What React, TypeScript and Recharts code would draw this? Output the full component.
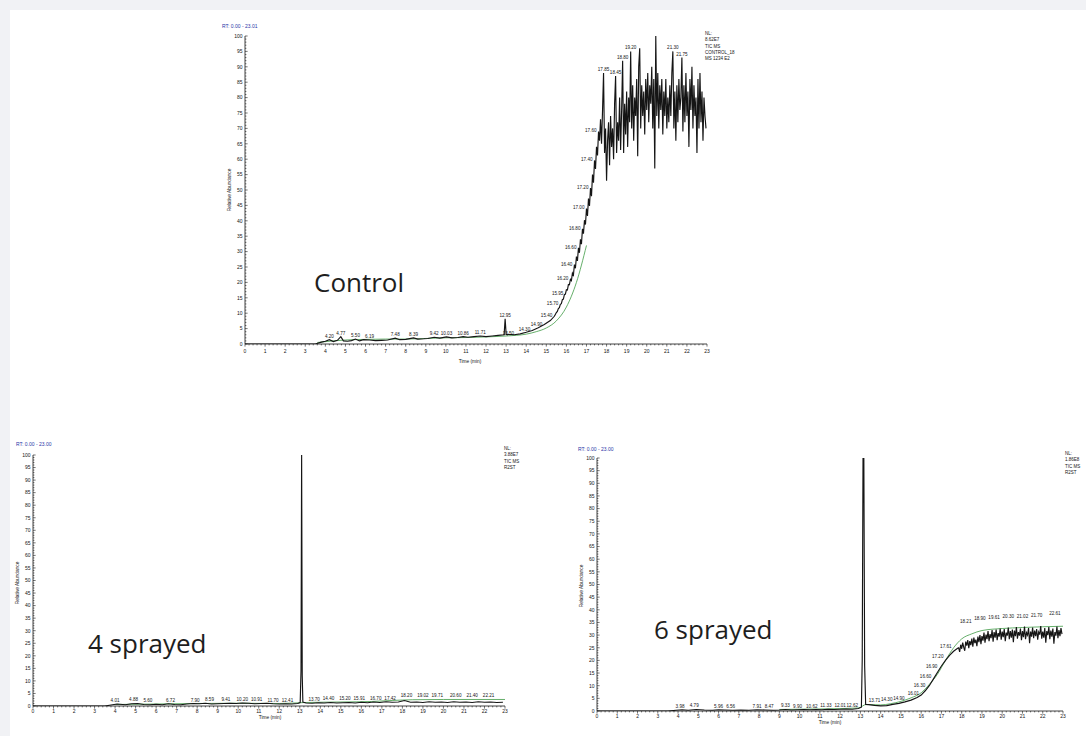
import { ComposedChart, Line, Scatter, XAxis, YAxis } from 'recharts';

type Pt = [number, number];

// Control chromatogram (time min, relative abundance %)
const controlTrace: Pt[] = [
  [0, 0], [3.5, 0], [3.8, 0.6], [4.0, 0.9], [4.2, 1.4], [4.4, 0.8], [4.6, 1.2], [4.77, 2.4], [4.9, 1.0],
  [5.1, 0.9], [5.3, 1.1], [5.5, 1.6], [5.7, 1.0], [5.9, 1.4], [6.2, 1.3], [6.5, 1.1], [6.8, 1.2], [7.1, 1.3],
  [7.48, 1.9], [7.7, 1.4], [8.0, 1.5], [8.39, 2.0], [8.6, 1.6], [8.9, 1.7], [9.1, 1.8], [9.42, 2.2], [9.7, 1.9],
  [10.03, 2.3], [10.3, 2.0], [10.6, 2.1], [10.86, 2.4], [11.1, 2.2], [11.4, 2.4], [11.71, 2.6], [12.0, 2.4],
  [12.3, 2.6], [12.6, 2.8], [12.9, 3.0], [12.95, 8.2], [13.0, 3.2], [13.05, 3.0], [13.1, 3.1], [13.4, 3.0],
  [13.7, 3.3], [14.0, 3.8], [14.3, 4.4], [14.6, 5.3], [14.9, 6.3], [15.2, 7.6], [15.4, 9.0], [15.45, 9.6],
  [15.5, 10.2], [15.55, 10.6], [15.6, 11.5], [15.65, 11.8], [15.7, 12.9], [15.75, 13.1], [15.8, 14.4],
  [15.85, 14.6], [15.9, 16.0], [15.95, 16.2], [16.0, 17.6], [16.05, 17.5], [16.1, 19.3], [16.15, 19.2],
  [16.2, 21.0], [16.25, 20.6], [16.3, 23.0], [16.35, 22.4], [16.4, 25.8], [16.45, 24.6], [16.5, 28.4],
  [16.55, 27.0], [16.6, 31.2], [16.65, 29.6], [16.7, 34.0], [16.75, 32.4], [16.8, 37.4], [16.85, 35.8],
  [16.9, 40.2], [16.95, 38.8], [17.0, 44.0], [17.05, 41.6], [17.1, 47.2], [17.15, 44.8], [17.2, 50.6],
  [17.25, 48.0], [17.3, 55.0], [17.35, 52.4], [17.4, 59.6], [17.45, 56.8], [17.5, 64.0], [17.55, 61.2],
  [17.6, 69.0], [17.65, 66.0], [17.7, 73.0], [17.75, 65.0], [17.8, 76.0], [17.85, 88.0], [17.9, 62.0],
  [17.95, 70.0], [18.0, 53.0], [18.05, 66.0], [18.1, 72.0], [18.15, 58.0], [18.2, 74.0], [18.25, 64.0],
  [18.3, 70.0], [18.35, 60.0], [18.4, 78.0], [18.45, 87.0], [18.5, 62.0], [18.55, 72.0], [18.6, 66.0],
  [18.65, 80.0], [18.7, 63.0], [18.75, 76.0], [18.8, 92.0], [18.85, 62.0], [18.9, 78.0], [18.95, 68.0],
  [19.0, 82.0], [19.05, 64.0], [19.1, 80.0], [19.15, 72.0], [19.2, 95.0], [19.25, 70.0], [19.3, 84.0],
  [19.35, 66.0], [19.4, 80.0], [19.45, 74.0], [19.5, 86.0], [19.55, 61.0], [19.6, 90.0], [19.65, 96.0],
  [19.7, 70.0], [19.75, 84.0], [19.8, 74.0], [19.85, 82.0], [19.9, 68.0], [19.95, 86.0], [20.0, 76.0],
  [20.05, 88.0], [20.1, 72.0], [20.15, 84.0], [20.2, 78.0], [20.25, 90.0], [20.3, 70.0], [20.35, 86.0],
  [20.4, 57.0], [20.45, 100.0], [20.5, 74.0], [20.55, 88.0], [20.6, 70.0], [20.65, 84.0], [20.7, 76.0],
  [20.75, 86.0], [20.8, 68.0], [20.85, 82.0], [20.9, 74.0], [20.95, 86.0], [21.0, 70.0], [21.05, 80.0],
  [21.1, 72.0], [21.15, 84.0], [21.2, 74.0], [21.25, 88.0], [21.3, 95.0], [21.35, 70.0], [21.4, 82.0],
  [21.45, 66.0], [21.5, 84.0], [21.55, 72.0], [21.6, 86.0], [21.65, 76.0], [21.7, 80.0], [21.75, 93.0],
  [21.8, 69.0], [21.85, 84.0], [21.9, 72.0], [21.95, 88.0], [22.0, 74.0], [22.05, 82.0], [22.1, 64.0],
  [22.15, 86.0], [22.2, 76.0], [22.25, 90.0], [22.3, 70.0], [22.35, 84.0], [22.4, 74.0], [22.45, 80.0],
  [22.5, 62.0], [22.55, 86.0], [22.6, 70.0], [22.65, 88.0], [22.7, 72.0], [22.75, 82.0], [22.8, 66.0],
  [22.85, 80.0], [22.9, 74.0], [22.95, 70.0],
];
const controlSmooth: Pt[] = [
  [3.6, 0.5], [5, 1.3], [6, 1.5], [7, 1.6], [8, 1.6], [9, 1.8], [10, 2.0], [11, 2.1], [12, 2.3], [13, 2.6],
  [14, 3.2], [14.5, 4.0], [15, 5.2], [15.5, 7.5], [16, 12], [16.5, 20], [17, 32],
];
const controlPeaks: [number, number, string][] = [
  [4.2, 1.4, '4.20'], [4.77, 2.4, '4.77'], [5.5, 1.6, '5.50'], [6.2, 1.4, '6.19'], [7.48, 1.9, '7.48'],
  [8.39, 2.0, '8.39'], [9.42, 2.2, '9.42'], [10.03, 2.3, '10.03'], [10.86, 2.4, '10.86'], [11.71, 2.6, '11.71'],
  [12.95, 8.2, '12.95'], [17.85, 88, '17.85'], [18.45, 87, '18.45'], [18.8, 92, '18.80'], [19.2, 95, '19.20'],
  [20.45, 100, '20.45'], [21.3, 95, '21.30'], [21.75, 93, '21.75'],
];
const controlSidePeaks: [number, number, string][] = [
  [13.5, 3.1, '13.50'], [14.3, 4.4, '14.30'], [14.9, 6.3, '14.90'], [15.4, 9.0, '15.40'], [15.7, 12.9, '15.70'],
  [15.95, 16.2, '15.95'], [16.2, 21.0, '16.20'], [16.4, 25.8, '16.40'], [16.6, 31.2, '16.60'], [16.8, 37.4, '16.80'],
  [17.0, 44.0, '17.00'], [17.2, 50.6, '17.20'], [17.4, 59.6, '17.40'], [17.6, 69.0, '17.60'],
];

// 4 sprayed
const spray4Trace: Pt[] = [
  [0, 0], [3.5, 0], [3.8, 0.4], [4.1, 0.8], [4.5, 0.5], [4.8, 0.9], [5.1, 1.0], [5.4, 0.6], [5.7, 0.5],
  [6.0, 0.7], [6.3, 0.5], [6.6, 0.9], [6.9, 0.6], [7.2, 0.5], [7.5, 0.8], [7.8, 1.0], [8.1, 0.9], [8.4, 1.1],
  [8.7, 0.8], [9.0, 0.9], [9.3, 1.0], [9.6, 1.1], [9.9, 1.0], [10.2, 1.2], [10.5, 1.1], [10.8, 0.9],
  [11.1, 1.0], [11.4, 1.1], [11.7, 0.9], [12.0, 0.8], [12.3, 0.9], [12.6, 0.8], [12.9, 1.0], [13.02, 1.4],
  [13.06, 14], [13.09, 100], [13.12, 12], [13.15, 1.6], [13.3, 1.2], [13.6, 1.1], [13.9, 1.3], [14.2, 1.2],
  [14.5, 1.4], [14.8, 1.2], [15.1, 1.3], [15.4, 1.4], [15.7, 1.2], [16.0, 1.5], [16.3, 1.3], [16.6, 1.6],
  [16.9, 1.4], [17.2, 1.7], [17.5, 1.5], [17.8, 1.6], [18.1, 2.2], [18.4, 1.5], [18.7, 1.6], [19.0, 1.4],
  [19.3, 1.7], [19.6, 1.5], [19.9, 1.6], [20.2, 1.4], [20.5, 1.7], [20.8, 1.5], [21.1, 1.6], [21.4, 1.4],
  [21.7, 1.7], [22.0, 1.5], [22.3, 1.6], [22.6, 1.4], [22.9, 1.5],
];
const spray4Smooth: Pt[] = [
  [4, 0.6], [6, 0.8], [8, 1.0], [10, 1.1], [12, 1.0], [13.3, 1.4], [15, 1.6], [16.5, 1.8], [17.5, 2.2],
  [18.5, 2.5], [20, 2.6], [23, 2.6],
];
const spray4Peaks: [number, number, string][] = [
  [4.0, 0.8, '4.01'], [4.9, 1.0, '4.88'], [5.6, 0.9, '5.60'], [6.7, 0.9, '6.72'], [7.9, 0.9, '7.90'],
  [8.6, 1.1, '8.59'], [9.4, 1.1, '9.41'], [10.2, 1.2, '10.20'], [10.9, 1.0, '10.91'], [11.7, 0.9, '11.70'],
  [12.4, 0.9, '12.41'], [13.09, 100, '13.09'], [13.7, 1.2, '13.70'], [14.4, 1.4, '14.40'], [15.2, 1.4, '15.20'],
  [15.9, 1.5, '15.91'], [16.7, 1.6, '16.70'], [17.4, 1.7, '17.42'], [18.2, 2.6, '18.20'], [19.0, 2.7, '19.02'],
  [19.7, 2.7, '19.71'], [20.6, 2.8, '20.60'], [21.4, 2.8, '21.40'], [22.2, 2.8, '22.21'],
];

// 6 sprayed
const spray6Trace: Pt[] = [
  [0, 0], [3.5, 0], [3.9, 0.3], [4.2, 0.5], [4.5, 0.3], [4.9, 0.6], [5.3, 0.4], [5.7, 0.3], [6.0, 0.5],
  [6.3, 0.4], [6.7, 0.3], [7.1, 0.4], [7.5, 0.3], [7.9, 0.5], [8.3, 0.4], [8.7, 0.3], [9.0, 0.4], [9.3, 0.6],
  [9.6, 0.4], [9.9, 0.5], [10.2, 0.6], [10.5, 0.5], [10.8, 0.6], [11.1, 0.5], [11.4, 0.7], [11.7, 0.6],
  [12.0, 0.7], [12.3, 0.8], [12.6, 0.7], [12.9, 1.0], [13.05, 1.5], [13.09, 20], [13.13, 100], [13.17, 100],
  [13.21, 18], [13.26, 2.6], [13.4, 2.5], [13.7, 2.2], [14.0, 2.0], [14.3, 2.1], [14.6, 2.6], [14.9, 3.0],
  [15.2, 3.6], [15.5, 4.3], [15.8, 5.3], [16.0, 6.3], [16.2, 8.0], [16.4, 10.0], [16.6, 12.6], [16.8, 15.2],
  [17.0, 17.8], [17.2, 20.0], [17.4, 22.0], [17.6, 23.6], [17.8, 24.8], [17.85, 25.0], [17.9, 23.4],
  [17.95, 26.2], [18.0, 24.6], [18.05, 27.0], [18.1, 25.2], [18.15, 23.8], [18.2, 27.4], [18.25, 25.8],
  [18.3, 28.0], [18.35, 24.8], [18.4, 27.6], [18.45, 26.0], [18.5, 28.6], [18.55, 25.4], [18.6, 29.0],
  [18.65, 26.8], [18.7, 28.2], [18.75, 25.6], [18.8, 29.4], [18.85, 27.2], [18.9, 30.0], [18.95, 26.4],
  [19.0, 29.6], [19.05, 27.8], [19.1, 31.0], [19.15, 27.0], [19.2, 30.2], [19.25, 28.4], [19.3, 31.6],
  [19.35, 27.6], [19.4, 30.4], [19.45, 28.8], [19.5, 32.0], [19.55, 27.4], [19.6, 31.2], [19.65, 29.0],
  [19.7, 32.2], [19.75, 28.0], [19.8, 30.8], [19.85, 29.4], [19.9, 32.6], [19.95, 28.2], [20.0, 31.4],
  [20.05, 29.2], [20.1, 32.4], [20.15, 27.6], [20.2, 31.0], [20.25, 29.8], [20.3, 33.0], [20.35, 28.4],
  [20.4, 31.6], [20.45, 29.0], [20.5, 32.2], [20.55, 27.2], [20.6, 31.8], [20.65, 29.6], [20.7, 33.2],
  [20.75, 28.6], [20.8, 31.2], [20.85, 29.8], [20.9, 32.6], [20.95, 28.0], [21.0, 31.6], [21.05, 29.2],
  [21.1, 33.4], [21.15, 28.4], [21.2, 31.0], [21.25, 30.0], [21.3, 32.8], [21.35, 26.8], [21.4, 31.4],
  [21.45, 29.4], [21.5, 33.0], [21.55, 28.8], [21.6, 31.8], [21.65, 29.6], [21.7, 32.4], [21.75, 28.2],
  [21.8, 31.2], [21.85, 30.2], [21.9, 33.6], [21.95, 28.6], [22.0, 31.4], [22.05, 29.0], [22.1, 32.8],
  [22.15, 27.0], [22.2, 31.6], [22.25, 30.0], [22.3, 33.2], [22.35, 28.4], [22.4, 31.8], [22.45, 29.4],
  [22.5, 32.6], [22.55, 26.6], [22.6, 31.2], [22.65, 29.8], [22.7, 33.4], [22.75, 28.8], [22.8, 32.0],
  [22.85, 29.6], [22.9, 32.8], [22.95, 30.4],
];
const spray6Smooth: Pt[] = [
  [9, 0.6], [11, 0.8], [12.9, 1.2], [13.3, 2.6], [14, 2.4], [14.5, 2.9], [15, 3.8], [15.5, 5.2], [16, 7.2],
  [16.4, 10.5], [16.8, 14.5], [17.2, 20], [17.6, 25], [18, 28.5], [18.5, 30.5], [19, 31.8], [20, 32.6], [21, 33],
  [22, 33.3], [23, 33.5],
];
const spray6Peaks: [number, number, string][] = [
  [4.1, 0.5, '3.98'], [4.8, 0.6, '4.79'], [6.0, 0.5, '5.96'], [6.6, 0.4, '6.56'], [7.9, 0.5, '7.91'],
  [8.5, 0.4, '8.47'], [9.3, 0.6, '9.33'], [9.9, 0.5, '9.90'], [10.6, 0.5, '10.62'], [11.3, 0.6, '11.33'],
  [12.0, 0.7, '12.01'], [12.6, 0.9, '12.62'], [13.15, 100, '13.15'], [13.7, 2.8, '13.71'], [14.3, 3.0, '14.30'],
  [14.9, 3.6, '14.90'], [18.2, 34.0, '18.21'], [18.9, 35.0, '18.90'], [19.6, 35.6, '19.61'], [20.3, 36.0, '20.30'],
  [21.0, 36.0, '21.02'], [21.7, 36.2, '21.70'], [22.6, 37.0, '22.61'],
];
const spray6SidePeaks: [number, number, string][] = [
  [16.0, 6.6, '16.01'], [16.3, 10.0, '16.30'], [16.6, 13.6, '16.60'], [16.9, 17.4, '16.90'], [17.2, 21.2, '17.20'],
  [17.6, 25.2, '17.61'],
];

const xMajor = [0, 1, 2, 3, 4, 5, 6, 7, 8, 9, 10, 11, 12, 13, 14, 15, 16, 17, 18, 19, 20, 21, 22, 23];
const yMajor = [0, 5, 10, 15, 20, 25, 30, 35, 40, 45, 50, 55, 60, 65, 70, 75, 80, 85, 90, 95, 100];
const xTicks = Array.from({ length: 23 * 5 + 1 }, (_, i) => Math.round(i * 2) / 10);
const yTicks = Array.from({ length: 101 }, (_, i) => i);

const toRows = (pts: Pt[]) => pts.map(([t, v]) => ({ t, v }));
const toPeaks = (pts: [number, number, string][]) => pts.map(([t, v, l]) => ({ t, v, l }));

const INK = '#151515';
const GREEN = '#3f9a45';
const SMALL = 'Liberation Sans, Arial, sans-serif';
const AXW = 20; // y-axis width / x-axis height reserved by recharts

function XTick(props: any) {
  const { x, y, payload, labelGap } = props;
  const v = payload.value;
  const major = xMajor.includes(v);
  return (
    <g>
      <line x1={x} x2={x} y1={y} y2={y + (major ? 2.6 : 1.4)} stroke={INK} strokeWidth={0.6} />
      {major && (
        <text x={x} y={y + labelGap} textAnchor="middle" fontSize={5} fontFamily={SMALL} fill={INK}>
          {v}
        </text>
      )}
    </g>
  );
}

function YTick(props: any) {
  const { x, y, payload } = props;
  const v = payload.value;
  const major = yMajor.includes(v);
  return (
    <g>
      <line x1={x} x2={x + (major ? 2.6 : 1.4)} y1={y} y2={y} stroke={INK} strokeWidth={0.6} />
      {major && (
        <text x={x - 2.5} y={y + 1.8} textAnchor="end" fontSize={5} fontFamily={SMALL} fill={INK}>
          {v}
        </text>
      )}
    </g>
  );
}

const topLabel = (p: any) => (
  <text x={p.cx} y={p.cy - 2} textAnchor="middle" fontSize={4.6} fontFamily={SMALL} fill={INK}>
    {p.payload.l}
  </text>
);
const sideLabel = (p: any) => (
  <text x={p.cx - 2} y={p.cy + 1} textAnchor="end" fontSize={4.6} fontFamily={SMALL} fill={INK}>
    {p.payload.l}
  </text>
);

type PanelProps = {
  plot: { left: number; top: number; right: number; bottom: number };
  trace: Pt[];
  smooth: Pt[];
  peaks: [number, number, string][];
  sidePeaks?: [number, number, string][];
  labelGap: number;
};

function Panel({ plot, trace, smooth, peaks, sidePeaks, labelGap }: PanelProps) {
  const margin = {
    top: plot.top,
    left: plot.left - AXW,
    right: 1086 - plot.right,
    bottom: 736 - plot.bottom - AXW,
  };
  return (
    <div style={{ position: 'absolute', left: 0, top: 0 }}>
      <ComposedChart width={1086} height={736} margin={margin}>
        <XAxis
          type="number"
          dataKey="t"
          domain={[0, 23]}
          ticks={xTicks}
          interval={0}
          height={AXW}
          tickSize={0}
          tickMargin={0}
          tickLine={false}
          axisLine={{ stroke: INK, strokeWidth: 0.8 }}
          tick={(p: any) => <XTick {...p} labelGap={labelGap} />}
          allowDataOverflow
        />
        <YAxis
          type="number"
          dataKey="v"
          domain={[0, 100]}
          ticks={yTicks}
          interval={0}
          width={AXW}
          tickSize={0}
          tickMargin={0}
          tickLine={false}
          axisLine={{ stroke: INK, strokeWidth: 0.8 }}
          tick={(p: any) => <YTick {...p} />}
          allowDataOverflow
        />
        <Line data={toRows(smooth)} dataKey="v" type="monotone" stroke={GREEN} strokeWidth={0.8} dot={false} isAnimationActive={false} />
        <Line data={toRows(trace)} dataKey="v" type="linear" stroke={INK} strokeWidth={1.15} dot={false} isAnimationActive={false} />
        <Scatter data={toPeaks(peaks)} dataKey="v" shape={topLabel} isAnimationActive={false} />
        {sidePeaks && <Scatter data={toPeaks(sidePeaks)} dataKey="v" shape={sideLabel} isAnimationActive={false} />}
      </ComposedChart>
    </div>
  );
}

function Annotations() {
  const hdr = { fontSize: 5, fontFamily: SMALL, fill: '#2b35a8' } as const;
  const info = { fontSize: 4.5, fontFamily: SMALL, fill: INK } as const;
  const axisT = { fontSize: 4.8, fontFamily: SMALL, fill: INK } as const;
  const big = { fontSize: 26, fontFamily: 'Open Sans, sans-serif', fill: '#1e1e1e' } as const;
  const block = (x: number, y: number, lines: string[]) =>
    lines.map((s, i) => (
      <text key={s + i} x={x} y={y + i * 6.3} {...info}>
        {s}
      </text>
    ));
  return (
    <svg width={1086} height={736} style={{ position: 'absolute', left: 0, top: 0 }}>
      <text x={222} y={28} {...hdr}>RT: 0.00 - 23.01</text>
      <text x={16} y={446} {...hdr}>RT: 0.00 - 23.00</text>
      <text x={578} y={451} {...hdr}>RT: 0.00 - 23.00</text>
      {block(705, 35, ['NL:', '8.62E7', 'TIC  MS', 'CONTROL_18', 'MS 1234 E2'])}
      {block(504, 450, ['NL:', '3.88E7', 'TIC  MS', 'R2ST'])}
      {block(1065, 455, ['NL:', '1.86E8', 'TIC  MS', 'R2ST'])}
      <text transform="translate(231,190) rotate(-90)" textAnchor="middle" {...axisT}>Relative Abundance</text>
      <text transform="translate(19,583) rotate(-90)" textAnchor="middle" {...axisT}>Relative Abundance</text>
      <text transform="translate(583,586) rotate(-90)" textAnchor="middle" {...axisT}>Relative Abundance</text>
      <text x={470} y={363} textAnchor="middle" {...axisT}>Time (min)</text>
      <text x={270} y={719} textAnchor="middle" {...axisT}>Time (min)</text>
      <text x={830} y={724} textAnchor="middle" {...axisT}>Time (min)</text>
      <text x={314} y={292} {...big}>Control</text>
      <text x={88} y={653} {...big}>4 sprayed</text>
      <text x={654} y={639} {...big}>6 sprayed</text>
    </svg>
  );
}

export default function App() {
  return (
    <div style={{ position: 'absolute', left: 0, top: 0, width: 1086, height: 736, background: '#f1f2f5', overflow: 'hidden' }}>
      <div style={{ position: 'absolute', left: 10, top: 10, width: 1076, height: 726, background: '#ffffff' }} />
      <Panel plot={{ left: 245, top: 36, right: 707, bottom: 344 }} trace={controlTrace} smooth={controlSmooth} peaks={controlPeaks} sidePeaks={controlSidePeaks} labelGap={9} />
      <Panel plot={{ left: 33, top: 455, right: 505, bottom: 706 }} trace={spray4Trace} smooth={spray4Smooth} peaks={spray4Peaks} labelGap={7} />
      <Panel plot={{ left: 597, top: 458, right: 1063, bottom: 711 }} trace={spray6Trace} smooth={spray6Smooth} peaks={spray6Peaks} sidePeaks={spray6SidePeaks} labelGap={7} />
      <Annotations />
    </div>
  );
}
